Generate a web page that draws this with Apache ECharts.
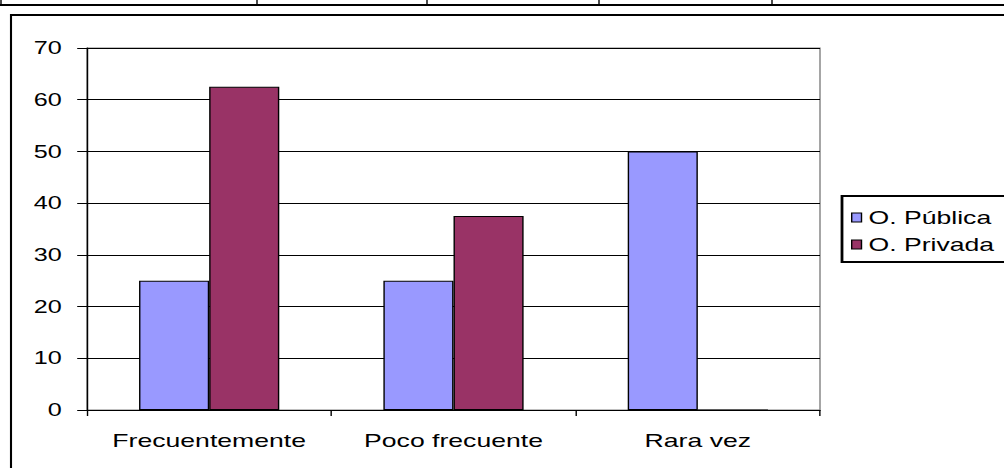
<!DOCTYPE html>
<html>
<head>
<meta charset="utf-8">
<script src="https://cdn.jsdelivr.net/npm/echarts@6/dist/echarts.min.js"></script>
<style>
html,body{margin:0;padding:0;background:#fff;overflow:hidden;width:1004px;height:468px;}
#chart{width:717px;height:468px;transform:scaleX(1.40028);transform-origin:0 0;}
</style>
</head>
<body>
<div id="chart"></div>
<script>
const categories = ['Frecuentemente', 'Poco frecuente', 'Rara vez'];
const seriesNames = ['O. Pública', 'O. Privada'];
const publica = [25, 25, 50];
const privada = [62.5, 37.5, 0];
const yTicks = [0, 10, 20, 30, 40, 50, 60, 70];

// The reference image is horizontally stretched; the chart is drawn at 717px width and stretched by CSS.
const S = 1004 / 717;
const X = v => v / S;

const chart = echarts.init(document.getElementById('chart'), null, {renderer: 'svg'});
const font = 'Liberation Sans, Arial, sans-serif';
const option = {
  animation: false,
  backgroundColor: '#fff',
  textStyle: {fontFamily: font},
  grid: {left: X(87), right: 717 - X(820), top: 48, bottom: 58, show: true, borderColor: '#808080', borderWidth: 1, containLabel: false},
  legend: {
    orient: 'vertical', left: X(844), top: 203,
    itemWidth: 7, itemHeight: 9, itemGap: 8,
    icon: 'rect',
    data: seriesNames,
    textStyle: {fontFamily: font, fontSize: 19, color: '#000'},
    itemStyle: {borderColor: '#000', borderWidth: 1}
  },
  xAxis: {
    type: 'category', data: categories,
    axisLine: {lineStyle: {color: '#000', width: 1}},
    axisTick: {show: true, length: 6, lineStyle: {color: '#000'}},
    axisLabel: {fontFamily: font, fontSize: 19, color: '#000', margin: 21, interval: 0}
  },
  yAxis: {
    type: 'value', min: yTicks[0], max: yTicks[yTicks.length - 1], interval: 10,
    axisLine: {show: true, lineStyle: {color: '#000'}},
    axisTick: {show: true, length: 7, lineStyle: {color: '#000'}},
    splitLine: {lineStyle: {color: '#000', width: 1}},
    axisLabel: {fontFamily: font, fontSize: 18, color: '#000', margin: 18}
  },
  series: [
    {name: seriesNames[0], type: 'bar', data: publica, barGap: '0%', barCategoryGap: '42.6%',
     itemStyle: {color: '#9999FF', borderColor: '#000', borderWidth: 1}},
    {name: seriesNames[1], type: 'bar', data: privada, barGap: '0%', barCategoryGap: '42.6%',
     itemStyle: {color: '#993366', borderColor: '#000', borderWidth: 1}}
  ],
  graphic: [
    {type: 'line', shape: {x1: 0, y1: 5, x2: 717, y2: 5}, style: {stroke: '#000', lineWidth: 2}},
    {type: 'line', shape: {x1: X(1), y1: 0, x2: X(1), y2: 5}, style: {stroke: '#000', lineWidth: 1}},
    {type: 'line', shape: {x1: X(257), y1: 0, x2: X(257), y2: 5}, style: {stroke: '#000', lineWidth: 1}},
    {type: 'line', shape: {x1: X(427), y1: 0, x2: X(427), y2: 5}, style: {stroke: '#000', lineWidth: 1}},
    {type: 'line', shape: {x1: X(599), y1: 0, x2: X(599), y2: 5}, style: {stroke: '#000', lineWidth: 1}},
    {type: 'line', shape: {x1: X(772), y1: 0, x2: X(772), y2: 5}, style: {stroke: '#000', lineWidth: 1}},
    {type: 'line', shape: {x1: X(10), y1: 15, x2: 717, y2: 15}, style: {stroke: '#000', lineWidth: 2}},
    {type: 'line', shape: {x1: X(11), y1: 14, x2: X(11), y2: 468}, style: {stroke: '#000', lineWidth: 1.5}},
    {type: 'rect', shape: {x: X(842), y: 196, width: 150, height: 66}, style: {fill: 'none', stroke: '#000', lineWidth: 2}}
  ]
};
chart.setOption(option);
</script>
</body>
</html>
